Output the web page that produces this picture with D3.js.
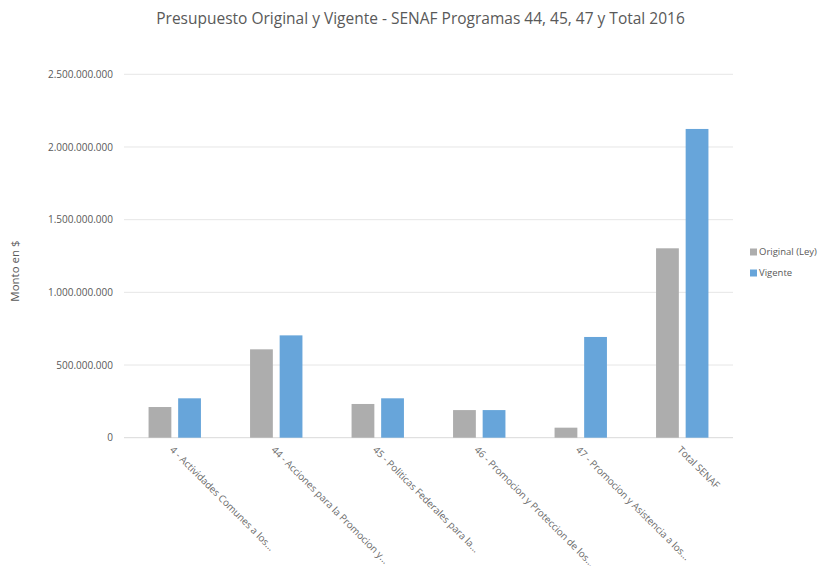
<!DOCTYPE html>
<html>
<head>
<meta charset="utf-8">
<script src="https://cdn.jsdelivr.net/npm/d3@7"></script>
<style>
  body { margin: 0; background: #fff; }
  text { font-family: "Open Sans", "Noto Sans", sans-serif; fill: #595959; }
</style>
</head>
<body>
<svg id="chart" width="819" height="566"></svg>
<script>
// values
var categories = [
  "4 - Actividades Comunes a los...",
  "44 - Acciones para la Promocion y...",
  "45 - Politicas Federales para la...",
  "46 - Promocion y Proteccion de los...",
  "47 - Promocion y Asistencia a los...",
  "Total SENAF"
];
var seriesNames = ["Original (Ley)", "Vigente"];
var original = [211000000, 608000000, 232000000, 190000000, 69000000, 1303000000];
var vigente = [271000000, 704000000, 271000000, 190000000, 693000000, 2124000000];
var yTicks = [0, 500000000, 1000000000, 1500000000, 2000000000, 2500000000];
var colors = ["#ADADAD", "#67A5DA"];

var svg = d3.select("#chart");
var plotLeft = 124, plotRight = 733, plotTop = 74.3, plotBottom = 437.7;

var x = d3.scaleBand().domain(categories).range([plotLeft, plotRight]);
var sub = d3.scaleBand().domain(seriesNames).range([0, x.bandwidth()])
    .paddingInner(0.23).paddingOuter(0.83);
var y = d3.scaleLinear().domain([0, 2500000000]).range([plotBottom, plotTop]);

var fmt = function(v) {
  return d3.format(",")(v).replace(/,/g, ".");
};

// title
svg.append("text")
    .attr("x", 420.5)
    .attr("y", 24)
    .attr("text-anchor", "middle")
    .style("font-size", "15.5px")
    .text("Presupuesto Original y Vigente - SENAF Programas 44, 45, 47 y Total 2016");

// gridlines
svg.append("g").selectAll("line")
    .data(yTicks)
    .enter().append("line")
    .attr("x1", plotLeft)
    .attr("x2", plotRight)
    .attr("y1", function(d) { return y(d); })
    .attr("y2", function(d) { return y(d); })
    .attr("stroke", function(d) { return d === 0 ? "#d9d9d9" : "#e6e6e6"; })
    .attr("stroke-width", 1);

// y axis labels
var yAxis = d3.axisLeft(y).tickValues(yTicks).tickFormat(fmt).tickSize(0).tickPadding(11);
var gy = svg.append("g").attr("transform", "translate(" + plotLeft + ",0)").call(yAxis);
gy.select(".domain").remove();
gy.selectAll("text")
    .style("font-size", "10px")
    .style("fill", "#595959")
    .style("font-family", "\"Open Sans\", sans-serif");

// y axis title
svg.append("text")
    .attr("transform", "translate(19,271) rotate(-90)")
    .attr("text-anchor", "middle")
    .style("font-size", "11.5px")
    .text("Monto en $");

// bars
var rows = categories.map(function(c, i) {
  return { cat: c, vals: [original[i], vigente[i]] };
});
var groups = svg.append("g").selectAll("g")
    .data(rows)
    .enter().append("g")
    .attr("transform", function(d) { return "translate(" + x(d.cat) + ",0)"; });
groups.selectAll("rect")
    .data(function(d) {
      return d.vals.map(function(v, j) { return { name: seriesNames[j], value: v, j: j }; });
    })
    .enter().append("rect")
    .attr("x", function(d) { return sub(d.name); })
    .attr("width", sub.bandwidth())
    .attr("y", function(d) { return y(d.value); })
    .attr("height", function(d) { return y(0) - y(d.value); })
    .attr("fill", function(d) { return colors[d.j]; });

// x labels, rotated 45 degrees
svg.append("g").selectAll("text")
    .data(categories)
    .enter().append("text")
    .attr("transform", function(d) {
      var cx = x(d) + x.bandwidth() / 2;
      return "translate(" + (cx - 3) + "," + 448 + ") rotate(45)";
    })
    .attr("text-anchor", "start")
    .attr("dy", "0.35em")
    .style("font-size", "9.8px")
    .style("fill", "#6b6b6b")
    .text(function(d) { return d; });

// legend
var legend = svg.append("g").selectAll("g")
    .data(seriesNames)
    .enter().append("g")
    .attr("transform", function(d, i) { return "translate(750," + (252 + i * 21) + ")"; });
legend.append("rect")
    .attr("x", 0)
    .attr("y", -3.5)
    .attr("width", 7)
    .attr("height", 7)
    .attr("fill", function(d, i) { return colors[i]; });
legend.append("text")
    .attr("x", 9)
    .attr("dy", "0.35em")
    .style("font-size", "9.5px")
    .text(function(d) { return d; });
</script>
</body>
</html>
